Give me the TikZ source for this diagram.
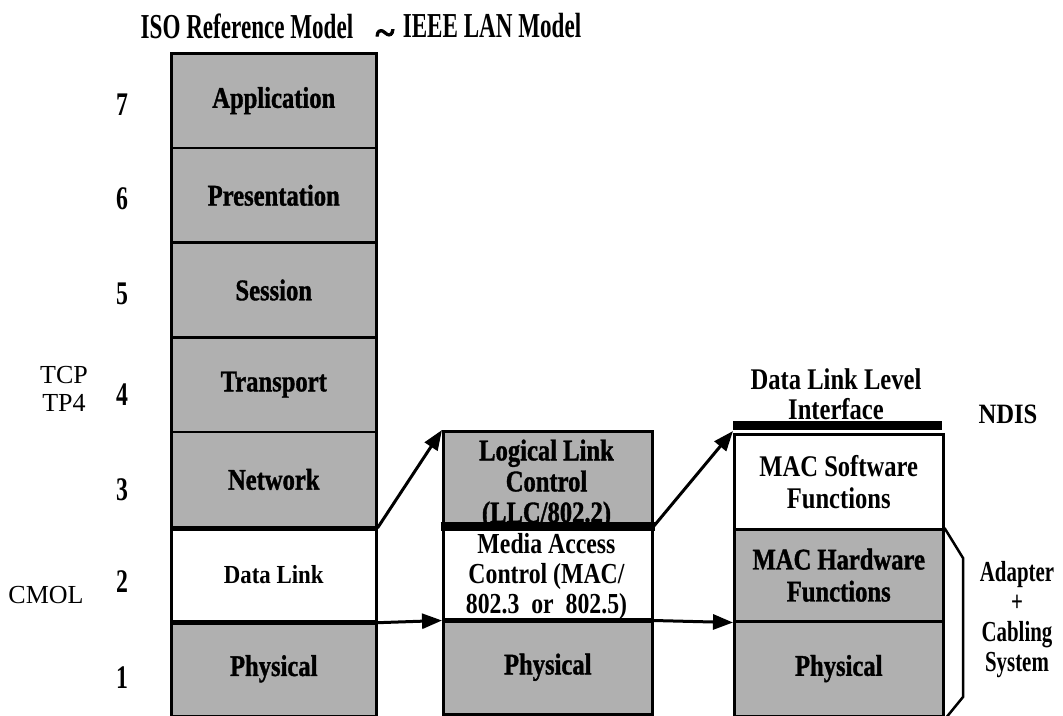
\documentclass[tikz,border=0pt]{standalone}
\usepackage{fontspec}
\setmainfont{Liberation Serif}
\newfontfamily\condb[FakeStretch=0.82]{Liberation Serif}
\newfontfamily\heavyb[FakeStretch=0.82,FakeBold=1.2]{Liberation Serif}
\newfontfamily\midb[FakeStretch=0.88]{Liberation Serif}
\newfontfamily\numf[FakeStretch=0.72]{Liberation Serif}
\newfontfamily\titlef[FakeStretch=0.66]{Liberation Serif}
\newfontfamily\tildef[FakeBold=2]{Liberation Serif}
\usetikzlibrary{arrows.meta}
\definecolor{shade}{RGB}{176,176,176}
\tikzset{
  cell/.style={anchor=north west, inner sep=0pt, line width=2.5pt, draw,
    minimum height=94.7pt, align=center,
    font=\heavyb\bfseries\fontsize{30}{32}\selectfont},
  lcell/.style={cell, minimum width=205pt},
  mcell/.style={cell, minimum width=209pt, minimum height=94pt},
  rcell/.style={cell, minimum width=209pt},
  plain/.style={font=\condb\bfseries\fontsize{30}{32}\selectfont},
  shaded/.style={fill=shade},
  lnum/.style={font=\numf\bfseries\fontsize{33}{33}\selectfont},
  side/.style={font=\fontsize{26}{31}\selectfont, align=center},
  heavy/.style={line width=#1, line cap=butt},
  link/.style={line width=3pt, -{Triangle[length=20pt,width=15pt]}},
  title/.style={font=\titlef\bfseries\fontsize{35}{36}\selectfont}
}
\begin{document}
\begin{tikzpicture}[x=1pt,y=-1pt]
\useasboundingbox (0,0) rectangle (1063,715);

% headings
\node[title] (iso) at (247,26) {ISO Reference Model};
\node[font=\tildef\bfseries\fontsize{36}{36}\selectfont, inner sep=0pt] (tilde) at (385,37) {\char"7E};
\node[title] (ieee) at (492,26) {IEEE LAN Model};

% ISO seven-layer stack
\node[lcell,shaded] (app)  at (170,52)    {Application};
\node[lcell,shaded] (pres) at (170,146.7) {Presentation};
\node[lcell,shaded] (sess) at (170,241.4) {Session};
\node[lcell,shaded] (trn)  at (170,336.1) {Transport};
\node[lcell,shaded] (net)  at (170,430.8) {Network};
\node[lcell,font=\midb\bfseries\fontsize{26}{30}\selectfont] (dl) at (170,525.5) {Data Link};
\node[lcell,shaded] (phy)  at (170,620.2) {Physical};

% layer numbers
\node[lnum] (n7) at (122,105) {7};
\node[lnum] (n6) at (122,199) {6};
\node[lnum] (n5) at (122,294) {5};
\node[lnum] (n4) at (122,395) {4};
\node[lnum] (n3) at (122,490) {3};
\node[lnum] (n2) at (122,582) {2};
\node[lnum] (n1) at (122,678) {1};

% protocols beside the stack
\node[side] (tcp)  at (64,389) {TCP\\[-3pt]TP4};
\node[side] (cmol) at (46,595) {CMOL};

% IEEE 802 stack
\node[mcell,shaded] (llc) at (442,430) {};
\node[mcell] (mac) at (442,524) {};
\node[mcell,shaded] (mphy) at (442,619) {Physical};
\node[font=\heavyb\bfseries\fontsize{30}{31}\selectfont, align=center, anchor=north]
  (llct) at (546.5,436) {Logical Link\\Control\\(LLC/802.2)};
\node[font=\condb\bfseries\fontsize{29}{30}\selectfont, align=center, anchor=north]
  (mact) at (546.5,530) {Media Access\\Control (MAC/\\802.3\ \ or\ \ 802.5)};

% NDIS stack
\node[rcell, plain, minimum height=95pt] (sw) at (733,433) {MAC Software\\Functions};
\node[rcell,shaded, minimum height=92pt] (hw) at (733,528) {MAC Hardware\\Functions};
\node[rcell,shaded] (rphy) at (733,620) {Physical};
\node[fill=black, inner sep=0pt, minimum width=209pt, minimum height=9pt,
  anchor=south west] (ifbar) at (733,430) {};
\node[font=\condb\bfseries\fontsize{30}{30}\selectfont, align=center, anchor=south]
  (dlli) at (836,423) {Data Link Level\\Interface};
\node[font=\midb\bfseries\fontsize{28}{30}\selectfont] (ndis) at (1008,414) {NDIS};

% layer boundaries drawn heavy
\draw[heavy=5pt] (net.south west) -- (net.south east);
\draw[heavy=5pt] (dl.south west) -- (dl.south east);
\draw[heavy=9pt] ([xshift=-1.5pt]llc.south west) -- ([xshift=1.5pt]llc.south east);
\draw[heavy=4pt] (mac.south west) -- (mac.south east);

% connectors
\draw[link] (net.south east) -- (llc.north west);
\draw[link] (llc.south east) -- ([yshift=2pt]sw.north west);
\draw[link] (dl.south east) -- (mac.south west);
\draw[link] (mac.south east) -- (hw.south west);

% bracket over adapter layers
\coordinate (bk1) at (963,558);
\coordinate (bk2) at (963,697);
\draw[line width=2.5pt, line join=miter] (hw.north east) -- (bk1) -- (bk2) -- ([xshift=2pt]rphy.south east);
\node[font=\numf\bfseries\fontsize{29}{30}\selectfont, align=center] (adapt) at (1017,620)
  {Adapter\\+\\Cabling\\System};
\end{tikzpicture}
\end{document}
